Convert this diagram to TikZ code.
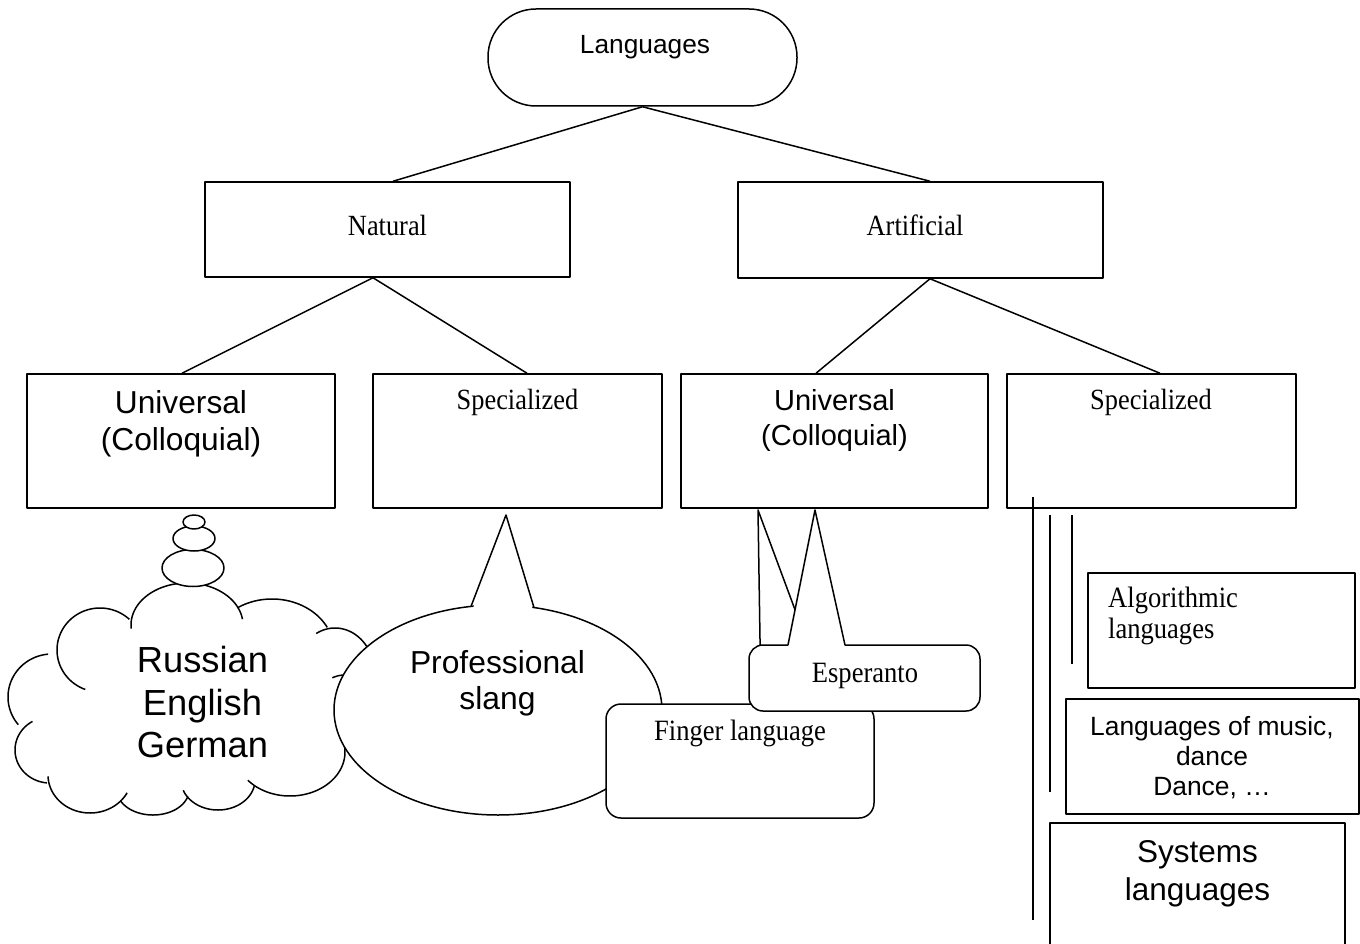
\documentclass[tikz,border=0pt]{standalone}
\usepackage{fontspec}
\newfontfamily\sansf{Liberation Sans}
\newfontfamily\seriff[FakeStretch=0.9]{Liberation Serif}
\usetikzlibrary{calc,shapes.geometric}

% font size helper (size in pt)
\newcommand{\fsz}[1]{\fontsize{#1}{#1}\selectfont}
% one puff of the cloud: centre x, centre y, x radius, y radius, start, end angle
\newcommand{\cloudpuff}[6]{%
  \draw[outline] plot[domain=#5:#6, samples=60, variable=\t]
    ({#1+#3*cos(\t)},{#2+#4*sin(\t)});}

\tikzset{
  outline/.style={draw=black, line width=1.5pt, line join=round},
  box/.style={outline, rectangle, fill=white, inner sep=0pt},
  oval/.style={outline, ellipse, fill=white, inner sep=0pt},
  link/.style={draw=black, line width=1.5pt},
  txt/.style={anchor=base, inner sep=0pt, text=black},
  sanstxt/.style={txt, font={\sansf\fsz{#1}}},
  seriftxt/.style={txt, font={\seriff\fsz{#1}}},
}

\begin{document}
\begin{tikzpicture}[x=1pt, y=-1pt]
\useasboundingbox (0,0) rectangle (1360,944);
\clip (0,0) rectangle (1360,944);

% ---------- root ----------
\node[box, rounded corners=48pt, minimum width=309pt, minimum height=97pt] (lang) at (642.5,57.5) {};
\node[sanstxt=26.3] (langT) at (645,54) {Languages};

% ---------- first level ----------
\node[box, minimum width=365pt, minimum height=95pt] (nat) at (387.5,229.5) {};
\node[seriftxt=29.3] (natT) at (387.5,236) {Natural};
\node[box, minimum width=365pt, minimum height=96pt] (art) at (920.5,230) {};
\node[seriftxt=29.3] (artT) at (915,236) {Artificial};

% ---------- second level ----------
\node[box, minimum width=308pt, minimum height=134pt] (uni1) at (181,441) {};
\node[sanstxt=31.7] (uni1a) at (181,413.3) {Universal};
\node[sanstxt=31.7] (uni1b) at (181,450) {(Colloquial)};

\node[box, minimum width=289pt, minimum height=134pt] (spec1) at (517.5,441) {};
\node[seriftxt=29.3] (spec1T) at (517.5,409) {Specialized};

\node[box, minimum width=307pt, minimum height=134pt] (uni2) at (834.5,441) {};
\node[sanstxt=29] (uni2a) at (834.5,410) {Universal};
\node[sanstxt=29] (uni2b) at (834.5,445) {(Colloquial)};

\node[box, minimum width=289pt, minimum height=134pt] (spec2) at (1151.5,441) {};
\node[seriftxt=29.3] (spec2T) at (1151,409) {Specialized};

% ---------- tree connectors ----------
\draw[link] (lang.south) -- ($(nat.north)+(5.5,0)$);
\draw[link] (lang.south) -- ($(art.north)+(9.5,0)$);
\draw[link] ($(nat.south)+(-14.5,0)$) -- ($(uni1.north)+(1,0)$);
\draw[link] ($(nat.south)+(-14.5,0)$) -- ($(spec1.north)+(9.5,0)$);
\draw[link] ($(art.south)+(9.5,0)$) -- ($(uni2.north)+(-18.5,0)$);
\draw[link] ($(art.south)+(9.5,0)$) -- ($(spec2.north)+(8.5,0)$);

% ---------- thought cloud ----------
\cloudpuff{187}{625}{56}{42}{175}{352}
\cloudpuff{272}{651}{62}{52}{236}{333}
\cloudpuff{335}{675}{40}{47}{242}{390}
\cloudpuff{345}{705}{30}{30}{245}{420}
\cloudpuff{290}{752}{55}{44}{-20}{140}
\cloudpuff{218}{780}{37}{30}{12}{160}
\cloudpuff{153}{790}{36}{25}{15}{155}
\cloudpuff{90}{775}{42}{38}{28}{178}
\cloudpuff{50}{750}{35}{33}{95}{240}
\cloudpuff{52}{697}{44}{43}{140}{265}
\cloudpuff{100}{650}{43}{42}{110}{313}
\node[sanstxt=36.3] (ru) at (202.5,672) {Russian};
\node[sanstxt=36.3] (en) at (202.5,715) {English};
\node[sanstxt=36.3] (de) at (202.5,757) {German};

% thought bubbles
\node[oval, minimum width=62pt, minimum height=37pt] (bub3) at (193,568) {};
\node[oval, minimum width=42pt, minimum height=25pt] (bub2) at (194,538.5) {};
\node[oval, minimum width=22pt, minimum height=14pt] (bub1) at (194,522) {};

% ---------- speech balloon ----------
\node[oval, minimum width=328pt, minimum height=210pt] (slang) at (498,710) {};
\fill[white] (471,614) -- (506,515) -- (534,614) -- cycle;
\draw[outline] (471,606.4) -- (506,515) -- (534,607.6);
\node[sanstxt=31.8] (sl1) at (497.5,673) {Professional};
\node[sanstxt=31.8] (sl2) at (497.5,709) {slang};

% ---------- finger language callout ----------
\node[box, rounded corners=15pt, minimum width=268pt, minimum height=114pt] (finger) at (740,761) {};
\fill[white] (761,706) -- (758,510) -- (830,706) -- cycle;
\draw[outline] (761,704) -- (758,510) -- (830,704);
\node[seriftxt=29.5] (fingerT) at (740,740) {Finger language};

% ---------- Esperanto callout ----------
\node[box, rounded corners=14pt, minimum width=231pt, minimum height=66pt] (esp) at (864.5,678) {};
\fill[white] (788,647) -- (815,510) -- (845,647) -- cycle;
\draw[outline] (788,645) -- (815,510) -- (845,645);
\node[seriftxt=29.5] (espT) at (865,682) {Esperanto};

% ---------- specialised artificial languages ----------
\coordinate (l1a) at (1033,497);
\coordinate (l1b) at (1033,920);
\coordinate (l2a) at (1050,515);
\coordinate (l2b) at (1050,792);
\coordinate (l3a) at (1072,515);
\coordinate (l3b) at (1072,664);
\draw[link] (l1a) -- (l1b);
\draw[link] (l2a) -- (l2b);
\draw[link] (l3a) -- (l3b);

\node[box, minimum width=267pt, minimum height=115pt] (algo) at (1221.5,630.5) {};
\node[seriftxt=29.5, anchor=base west] (algo1) at (1108,607) {Algorithmic};
\node[seriftxt=29.5, anchor=base west] (algo2) at (1108,638) {languages};

\node[box, minimum width=293pt, minimum height=115pt] (music) at (1212.5,756.5) {};
\node[sanstxt=26.4] (mus1) at (1212,735) {Languages of music,};
\node[sanstxt=26.4] (mus2) at (1212,765) {dance};
\node[sanstxt=26.4] (mus3) at (1212,795) {Dance, …};

\node[box, minimum width=295pt, minimum height=157pt] (sys) at (1197.5,901.5) {};
\node[sanstxt=31.5] (sys1) at (1197.5,862) {Systems};
\node[sanstxt=31.5] (sys2) at (1197.5,900) {languages};
\end{tikzpicture}
\end{document}
